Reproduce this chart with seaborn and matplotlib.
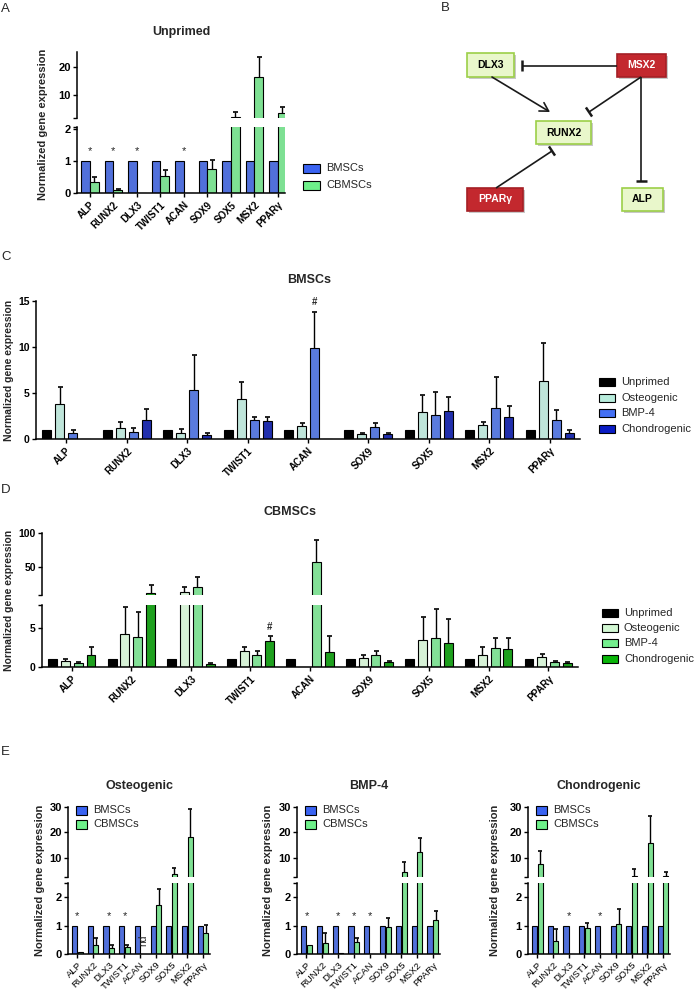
import numpy as np
import pandas as pd
import matplotlib
matplotlib.use("Agg")
import matplotlib.pyplot as plt
import seaborn as sns
from matplotlib.patches import Rectangle

W, H = 695, 991

genes = ["ALP", "RUNX2", "DLX3", "TWIST1", "ACAN", "SOX9", "SOX5", "MSX2", "PPARγ"]

# --- A: unprimed, BMSCs vs CBMSCs ---
a_groups = ["BMSCs", "CBMSCs"]
a_bmsc = [1, 1, 1, 1, 1, 1, 1, 1, 1]
a_cbmsc = [0.35, 0.08, 0.01, 0.53, 0.0, 0.75, 2.25, 16.4, 3.6]
a_cbmsc_err = [0.15, 0.03, 0.0, 0.17, 0.0, 0.27, 1.8, 7.1, 2.1]
a_stars = ["ALP", "RUNX2", "DLX3", "ACAN"]

# --- C: BMSCs under priming conditions ---
cond_groups = ["Unprimed", "Osteogenic", "BMP-4", "Chondrogenic"]
c_unprimed = [1, 1, 1, 1, 1, 1, 1, 1, 1]
c_osteo = [3.8, 1.15, 0.6, 4.4, 1.45, 0.55, 2.9, 1.5, 6.3]
c_osteo_err = [1.8, 0.7, 0.45, 1.8, 0.25, 0.05, 1.9, 0.35, 4.1]
c_bmp4 = [0.6, 0.8, 5.3, 2.1, 9.9, 1.3, 2.6, 3.4, 2.1]
c_bmp4_err = [0.4, 0.45, 3.8, 0.3, 3.9, 0.4, 2.55, 3.35, 1.1]
c_chondro = [0.05, 2.1, 0.4, 2.0, 0.05, 0.5, 3.0, 2.4, 0.6]
c_chondro_err = [0.0, 1.2, 0.3, 0.4, 0.0, 0.1, 1.6, 1.2, 0.35]

# --- D: CBMSCs under priming conditions ---
d_unprimed = [1, 1, 1, 1, 1, 1, 1, 1, 1]
d_osteo = [0.8, 4.2, 13.0, 2.1, 0.0, 1.2, 3.5, 1.6, 1.25]
d_osteo_err = [0.2, 3.6, 6.5, 0.5, 0.0, 0.3, 3.0, 1.0, 0.4]
d_bmp4 = [0.55, 3.9, 19.5, 1.6, 57.4, 1.6, 3.8, 2.4, 0.7]
d_bmp4_err = [0.05, 3.2, 15.8, 0.45, 32.0, 0.5, 3.7, 1.3, 0.1]
d_chondro = [1.6, 10.5, 0.4, 3.3, 2.0, 0.6, 3.1, 2.3, 0.5]
d_chondro_err = [0.95, 12.0, 0.1, 0.7, 2.0, 0.2, 3.1, 1.5, 0.2]

# --- E: BMSCs vs CBMSCs per priming condition ---
e_bmsc = [1, 1, 1, 1, 1, 1, 1, 1, 1]
e_osteo_cb = [0.07, 0.3, 0.2, 0.25, 0.0, 1.72, 3.5, 18.3, 0.75]
e_osteo_err = [0.0, 0.27, 0.1, 0.07, 0.0, 0.58, 2.5, 11.0, 0.27]
e_osteo_stars = ["ALP", "DLX3", "TWIST1"]
e_bmp_cb = [0.3, 0.4, 0.03, 0.43, 0.0, 0.95, 4.3, 12.5, 1.2]
e_bmp_err = [0.0, 0.35, 0.0, 0.14, 0.0, 0.33, 3.9, 5.5, 0.32]
e_bmp_stars = ["ALP", "DLX3", "TWIST1", "ACAN"]
e_chon_cb = [7.8, 0.45, 0.0, 0.9, 0.0, 1.05, 3.0, 16.0, 3.0]
e_chon_err = [4.8, 0.43, 0.0, 0.2, 0.0, 0.53, 2.8, 10.5, 1.5]
e_chon_stars = ["DLX3", "ACAN"]

pair_colors = ["#3a63f2", "#6ef08a"]
c_colors = ["#000000", "#b8ecdc", "#4470f4", "#0a1cc4"]
d_colors = ["#000000", "#d2f7d3", "#74ef8e", "#09b509"]

sns.set_style("ticks")
plt.rcParams["font.family"] = ["Liberation Sans", "DejaVu Sans"]
plt.rcParams["axes.edgecolor"] = "black"
plt.rcParams["xtick.color"] = "black"
plt.rcParams["ytick.color"] = "black"

fig = plt.figure(figsize=(W / 100, H / 100), dpi=100)


def frac(x0, y0, x1, y1):
    """Pixel box (top-left origin) -> figure fraction rect."""
    return [x0 / W, 1 - y1 / H, (x1 - x0) / W, (y1 - y0) / H]


def make_df(names, series):
    return pd.DataFrame({
        "gene": genes * len(names),
        "group": np.repeat(names, len(genes)),
        "value": np.concatenate([np.asarray(s, float) for s in series]),
    })


def bars(ax, df, names, colors, errs, width, gap, ylim, cap=3.6):
    sns.barplot(data=df, x="gene", y="value", hue="group", order=genes,
                hue_order=names, palette=colors, errorbar=None, width=width,
                gap=gap, edgecolor="black", linewidth=0.8, legend=False, ax=ax)
    # one-sided (upward) error bars; caps only where they fall inside this segment
    for cont, err in zip(ax.containers, errs):
        for bar, e in zip(cont, err):
            if e <= 0:
                continue
            xc = bar.get_x() + bar.get_width() / 2
            h = bar.get_height()
            top = h + e
            ax.vlines(xc, h, top, color="black", lw=1)
            if ylim[0] <= top <= ylim[1]:
                ax.plot(xc, top, marker="_", markersize=cap, mew=1.2, color="black")
    ax.set_xlabel("")
    ax.set_ylabel("")


def style(ax, xlim, ylim, ticks, labels, bottom=True, xbold=True, fs=7.5, xfs=7, xpad=2):
    ax.set_xlim(xlim)
    ax.set_ylim(ylim)
    ax.set_yticks(ticks)
    ax.set_yticklabels(labels, fontweight="bold", fontsize=fs)
    ax.spines["top"].set_visible(False)
    ax.spines["right"].set_visible(False)
    ax.spines["left"].set_linewidth(1.1)
    ax.tick_params(axis="y", length=3, width=1, pad=1.5)
    if bottom:
        ax.spines["bottom"].set_linewidth(1.1)
        ax.set_xticks(range(len(genes)))
        ax.set_xticklabels(genes, rotation=45, ha="right", rotation_mode="anchor",
                           fontsize=xfs, fontweight="bold" if xbold else "normal")
        ax.tick_params(axis="x", length=3, width=1, pad=xpad)
    else:
        ax.spines["bottom"].set_visible(False)
        ax.tick_params(axis="x", bottom=False, labelbottom=False)
    ax.patch.set_alpha(0)


def legend(x, y0, dy, names, colors, w=16, h=8, fs=8):
    for i, (n, c) in enumerate(zip(names, colors)):
        yc = y0 + i * dy
        fig.add_artist(Rectangle((x / W, 1 - (yc + h / 2) / H), w / W, h / H,
                                 transform=fig.transFigure, facecolor=c,
                                 edgecolor="black", lw=0.8))
        fig.text((x + w + 6) / W, 1 - yc / H, n, va="center", ha="left", fontsize=fs)


def ylabel(x, y, fs=7.5):
    fig.text(x / W, 1 - y / H, "Normalized gene expression", rotation=90,
             ha="center", va="center", fontsize=fs, fontweight="bold")


def title(x, y, s, fs=9):
    fig.text(x / W, 1 - y / H, s, ha="center", va="center", fontsize=fs, fontweight="bold")


def panel_label(x, y, s):
    fig.text(x / W, 1 - y / H, s, ha="left", va="top", fontsize=9.5)


def stars(ax, names, y):
    for g in names:
        ax.text(genes.index(g), y, "*", ha="center", va="center", fontsize=8)


# ---------------- Panel A ----------------
df_a = make_df(a_groups, [a_bmsc, a_cbmsc])
errs_a = [[0] * 9, a_cbmsc_err]
a_top_lim, a_bot_lim = (1.8, 25.4), (0, 2.05)
ax_a_top = fig.add_axes(frac(77, 52, 285, 118))
ax_a_bot = fig.add_axes(frac(77, 127, 285, 193))
bars(ax_a_top, df_a, a_groups, pair_colors, errs_a, 0.75, 0, a_top_lim)
bars(ax_a_bot, df_a, a_groups, pair_colors, errs_a, 0.75, 0, a_bot_lim)
style(ax_a_top, (-0.55, 8.3), a_top_lim, [1.8, 10, 20], ["", "10", "20"], bottom=False, fs=8)
style(ax_a_bot, (-0.55, 8.3), a_bot_lim, [0, 1, 2, 2.05], ["0", "1", "2", ""], fs=8)
stars(ax_a_bot, a_stars, 1.3)
title(181, 32, "Unprimed")
ylabel(43, 124, fs=8)
legend(303, 168, 17, a_groups, pair_colors, w=17, h=9)
panel_label(1, 3, "A")

# ---------------- Panel B (diagram) ----------------
axb = fig.add_axes(frac(430, 0, 695, 230))
axb.set_xlim(430, 695)
axb.set_ylim(230, 0)
axb.axis("off")
panel_label(441, 2, "B")
line_c = "#1a1a1a"


def node(x0, y0, x1, y1, text, red):
    fc = "#c3282e" if red else "#e9f7cb"
    ec = "#a41f25" if red else "#9ccf48"
    axb.add_patch(Rectangle((x0 + 1.5, y0 + 1.5), x1 - x0, y1 - y0, fc="#c8c8c8", ec="none"))
    axb.add_patch(Rectangle((x0, y0), x1 - x0, y1 - y0, fc=fc, ec=ec, lw=1.2))
    axb.text((x0 + x1) / 2, (y0 + y1) / 2, text, ha="center", va="center",
             fontsize=7.5, fontweight="bold", color="white" if red else "black")


def inhibit(x0, y0, x1, y1, half=5.5):
    axb.plot([x0, x1], [y0, y1], color=line_c, lw=1.2, solid_capstyle="butt")
    dx, dy = x1 - x0, y1 - y0
    L = np.hypot(dx, dy)
    px, py = -dy / L, dx / L
    axb.plot([x1 - px * half, x1 + px * half], [y1 - py * half, y1 + py * half],
             color=line_c, lw=1.8, solid_capstyle="butt")


node(467, 53, 514, 77, "DLX3", False)
node(617, 54, 666, 77, "MSX2", True)
node(536, 121, 591, 144, "RUNX2", False)
node(467, 188, 523, 211, "PPARγ", True)
node(622, 188, 663, 211, "ALP", False)
inhibit(617, 65.5, 522, 65.5)
inhibit(641, 77, 589, 112)
inhibit(641, 77, 641, 181)
inhibit(496, 188, 552, 151)
axb.annotate("", xy=(550, 112), xytext=(492, 77),
             arrowprops=dict(arrowstyle="->,head_length=0.6,head_width=0.35",
                             lw=1.2, color=line_c, shrinkA=0, shrinkB=0))

# ---------------- Panel C ----------------
df_c = make_df(cond_groups, [c_unprimed, c_osteo, c_bmp4, c_chondro])
errs_c = [[0] * 9, c_osteo_err, c_bmp4_err, c_chondro_err]
c_lim = (0, 15)
ax_c = fig.add_axes(frac(36, 301, 580, 439))
bars(ax_c, df_c, cond_groups, c_colors, errs_c, 0.86, 0.3, c_lim)
style(ax_c, (-0.5, 8.5), c_lim, [0, 5, 10, 15], ["0", "5", "10", "15"], fs=7.5)
acan_bmp = ax_c.containers[2][genes.index("ACAN")]
ax_c.text(acan_bmp.get_x() + acan_bmp.get_width() / 2, 14.85, "#", ha="center",
          va="center", fontsize=7, fontweight="bold")
title(309, 280, "BMSCs")
ylabel(9, 370)
legend(599, 382, 15.7, cond_groups, c_colors)
panel_label(1, 251, "C")

# ---------------- Panel D ----------------
df_d = make_df(cond_groups, [d_unprimed, d_osteo, d_bmp4, d_chondro])
errs_d = [[0] * 9, d_osteo_err, d_bmp4_err, d_chondro_err]
d_top_lim, d_bot_lim = (8, 100), (0, 8)
ax_d_top = fig.add_axes(frac(42, 533, 578, 595))
ax_d_bot = fig.add_axes(frac(42, 605, 578, 667))
bars(ax_d_top, df_d, cond_groups, d_colors, errs_d, 0.86, 0.3, d_top_lim)
bars(ax_d_bot, df_d, cond_groups, d_colors, errs_d, 0.86, 0.3, d_bot_lim)
style(ax_d_top, (-0.5, 8.5), d_top_lim, [8, 50, 100], ["", "50", "100"], bottom=False)
style(ax_d_bot, (-0.5, 8.5), d_bot_lim, [0, 5, 8], ["0", "5", ""])
tw_ch = ax_d_bot.containers[3][genes.index("TWIST1")]
ax_d_bot.text(tw_ch.get_x() + tw_ch.get_width() / 2, 5.15, "#", ha="center",
              va="center", fontsize=7, fontweight="bold")
title(290, 512, "CBMSCs")
ylabel(9, 600)
legend(602, 613, 15.2, cond_groups, d_colors)
panel_label(1, 484, "D")

# ---------------- Panel E ----------------
e_panels = [
    ("Osteogenic", 68, 210, e_osteo_cb, e_osteo_err, e_osteo_stars, 40),
    ("BMP-4", 297, 440, e_bmp_cb, e_bmp_err, e_bmp_stars, 268),
    ("Chondrogenic", 528, 670, e_chon_cb, e_chon_err, e_chon_stars, 495),
]
e_top_lim, e_bot_lim = (2.5, 30), (0, 2.5)
for name, x0, x1, cb, err, st, ylx in e_panels:
    df_e = make_df(a_groups, [e_bmsc, cb])
    errs_e = [[0] * 9, err]
    ax_top = fig.add_axes(frac(x0, 807, x1, 877))
    ax_bot = fig.add_axes(frac(x0, 883, x1, 954))
    bars(ax_top, df_e, a_groups, pair_colors, errs_e, 0.72, 0.1, e_top_lim, cap=3)
    bars(ax_bot, df_e, a_groups, pair_colors, errs_e, 0.72, 0.1, e_bot_lim, cap=3)
    style(ax_top, (-0.6, 8.45), e_top_lim, [2.5, 10, 20, 30], ["", "10", "20", "30"],
          bottom=False, fs=8)
    style(ax_bot, (-0.6, 8.45), e_bot_lim, [0, 1, 2, 2.5], ["0", "1", "2", ""],
          xbold=False, fs=8, xfs=6.8, xpad=1.5)
    stars(ax_bot, st, 1.35)
    if name == "Osteogenic":
        acan_cb = ax_bot.containers[1][genes.index("ACAN")]
        ax_bot.text(acan_cb.get_x() + acan_cb.get_width() / 2, 0.5, "nd", rotation=90,
                    ha="center", va="center", fontsize=7.5)
    title((x0 + x1) / 2, 786, name)
    ylabel(ylx, 880, fs=8)
    legend(x0 + 8, 810, 14, a_groups, pair_colors, w=11, h=9)
panel_label(1, 746, "E")

fig.savefig("out.png", dpi=100)
